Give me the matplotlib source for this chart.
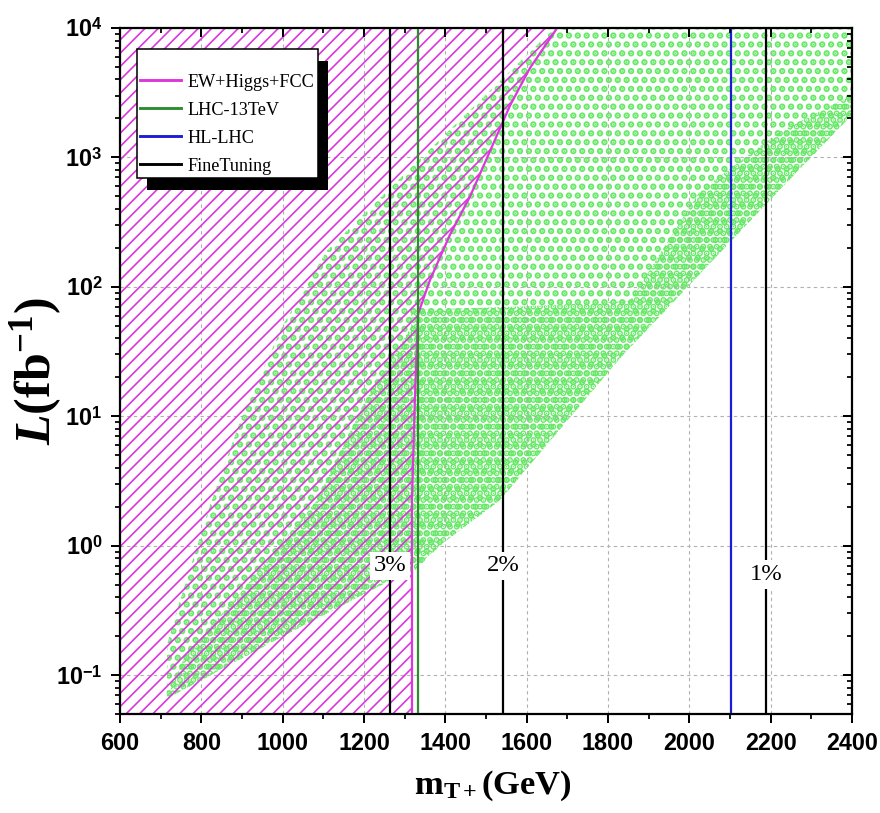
import numpy as np
import matplotlib
matplotlib.use("Agg")
import matplotlib.pyplot as plt
from matplotlib.patches import Rectangle
from matplotlib.transforms import IdentityTransform
from matplotlib.ticker import MultipleLocator, LogLocator, NullFormatter

# ---------------------------------------------------------------------------
# Datos (masa en GeV, luminosidad como log10 L)
# ---------------------------------------------------------------------------

# contorno general de la nube de puntos del escaneo
NUBE_M = [715, 716, 745, 821, 900, 1000, 1109, 1289, 1675, 2400, 2400, 2198,
          2002, 1830, 1534, 1394, 1325, 1264, 1001, 740]
NUBE_LOGL = [-1.18, -0.76, -0.45, 0.31, 1.0, 1.7, 2.28, 2.84, 4.02, 4.02, 3.33,
             2.67, 2.02, 1.45, 0.35, 0.02, -0.19, -0.27, -0.70, -1.14]

# zona densa por encima del borde inferior (lado permitido)
DENSA_M = [1316, 1394, 1534, 1830, 2002, 2198, 2400, 2400, 2223, 2026, 1854,
           1600, 1316]
DENSA_LOGL = [-0.20, 0.02, 0.35, 1.45, 2.02, 2.67, 3.33, 3.48, 3.20, 2.74, 1.89,
              1.85, 1.82]

# cuna densa dentro de la zona excluida
CUNA_M = [715, 740, 1001, 1264, 1318, 1318, 1200, 1084, 900, 760, 715]
CUNA_LOGL = [-1.18, -1.14, -0.70, -0.27, -0.20, 1.70, 1.10, 0.35, -0.35, -0.85,
             -1.18]

# limite EW+Higgs+FCC (se excluye todo lo que queda a la izquierda)
EXCL_M = [1318, 1318, 1325, 1333, 1362, 1411, 1461, 1510, 1559, 1608, 1675]
EXCL_LOGL = [-1.3, 0.35, 1.12, 1.79, 2.05, 2.40, 2.70, 3.05, 3.40, 3.69, 4.0]

LIM_LHC13 = 1333
LIM_HLLHC = 2102

# fine tuning
FT_M = [1264, 1543, 2188]
FT_TXT = ["3%", "2%", "1%"]
FT_L = [0.70, 0.70, 0.60]

XMIN, XMAX = 600, 2400
YMIN, YMAX = 0.05, 1e4
X_TICKS = list(range(600, 2401, 200))
Y_TICKS = [0.1, 1, 10, 100, 1000, 10000]
Y_TICK_TXT = [r"10$^{\mathsf{-1}}$", r"10$^{\mathsf{0}}$", r"10$^{\mathsf{1}}$",
              r"10$^{\mathsf{2}}$", r"10$^{\mathsf{3}}$", r"10$^{\mathsf{4}}$"]

VERDE_PUNTOS = "#68e868"
MAGENTA = "#dd36dd"
VERDE = "#2e8b2e"
AZUL = "#1c1cd6"

plt.rcParams["mathtext.fontset"] = "custom"
plt.rcParams["mathtext.rm"] = "Liberation Serif:bold"
plt.rcParams["mathtext.it"] = "Liberation Serif:italic:bold"
plt.rcParams["mathtext.bf"] = "Liberation Serif:bold"
plt.rcParams["mathtext.sf"] = "Liberation Sans:bold"


def a_L(logs):
    return [10 ** v for v in logs]


def rayado(x, y, color, patron, grosor, z):
    # el grosor del hatch va por parche si la version lo permite
    with plt.rc_context({"hatch.linewidth": grosor}):
        p, = ax.fill(x, y, facecolor="none", edgecolor=color, hatch=patron,
                     lw=0, zorder=z)
    if hasattr(p, "set_hatch_linewidth"):
        p.set_hatch_linewidth(grosor)
    return p


fig = plt.figure(figsize=(5.5, 813 / 160), dpi=160)
ax = fig.add_axes([120 / 880, 1 - 714 / 813, 732 / 880, 686 / 813])
ax.set_yscale("log")
ax.set_xlim(XMIN, XMAX)
ax.set_ylim(YMIN, YMAX)

# --- nube de puntos verdes ---
rayado(NUBE_M, a_L(NUBE_LOGL), VERDE_PUNTOS, "...", 2.0, 1)
rayado(DENSA_M, a_L(DENSA_LOGL), VERDE_PUNTOS, "....", 2.0, 1)
rayado(CUNA_M, a_L(CUNA_LOGL), VERDE_PUNTOS, "....", 2.0, 1)

# --- zona excluida EW+Higgs+FCC ---
excl_x = [XMIN] + EXCL_M + [XMIN]
excl_y = [YMIN] + a_L(EXCL_LOGL) + [YMAX]
rayado(excl_x, excl_y, MAGENTA, "////", 0.75, 2)
ax.plot(EXCL_M, a_L(EXCL_LOGL), color=MAGENTA, lw=1.0, zorder=3)

# --- lineas verticales ---
ax.axvline(LIM_LHC13, color=VERDE, lw=1.0, zorder=3)
ax.axvline(LIM_HLLHC, color=AZUL, lw=1.0, zorder=3)
for m, txt, l in zip(FT_M, FT_TXT, FT_L):
    ax.axvline(m, color="black", lw=1.0, zorder=3)
    ax.text(m, l, txt, ha="center", va="center", fontsize=11,
            family="Liberation Serif", zorder=4,
            bbox=dict(boxstyle="square,pad=0.15", fc="white", ec="none"))

# --- leyenda (las lineas solo sirven de muestra) ---
for txt, c in [("EW+Higgs+FCC", MAGENTA), ("LHC-13TeV", VERDE),
               ("HL-LHC", AZUL), ("FineTuning", "black")]:
    ax.plot([], [], color=c, lw=1.3, label=txt)
leg = ax.legend(loc="upper left", bbox_to_anchor=(0.023, 0.969), fancybox=False,
                framealpha=1, edgecolor="black", borderaxespad=0,
                prop={"family": "Liberation Serif", "size": 8.2},
                handlelength=2.2, handletextpad=0.4, labelspacing=0.6,
                borderpad=0.2, title=" ", title_fontsize=5)
leg.get_frame().set_linewidth(0.7)
leg.set_zorder(6)

# --- ejes ---
ax.set_xticks(X_TICKS)
ax.xaxis.set_minor_locator(MultipleLocator(100))
ax.set_yticks(Y_TICKS, labels=Y_TICK_TXT)
ax.yaxis.set_minor_locator(LogLocator(base=10, subs=np.arange(2, 10)))
ax.yaxis.set_minor_formatter(NullFormatter())
ax.tick_params(which="major", direction="out", length=4, width=0.9,
               labelsize=10.5, pad=4)
ax.tick_params(which="minor", direction="out", length=2.2, width=0.8)
for lab in ax.get_xticklabels() + ax.get_yticklabels():
    lab.set_family("Liberation Sans")
    lab.set_weight("bold")
ax.set_axisbelow("line")
ax.grid(True, which="major", ls=(0, (3, 3)), color="#b0b0b0", lw=0.5)
for s in ax.spines.values():
    s.set_linewidth(1.0)

ax.set_xlabel(r"m$_{\mathrm{T+}}$(GeV)", fontsize=15.5, family="Liberation Serif",
              weight="bold")
ax.xaxis.set_label_coords(0.51, -0.08)
ax.set_ylabel(r"$\mathit{L}$(fb$^{-1}$)", fontsize=22.5, family="Liberation Serif",
              weight="bold")
ax.yaxis.set_label_coords(-0.077, 0.5)

# marcas hacia dentro arriba y a la derecha
axt = ax.twiny()
axt.set_xlim(XMIN, XMAX)
axt.set_xticks(X_TICKS)
axt.xaxis.set_minor_locator(MultipleLocator(100))
axt.tick_params(which="both", direction="in", labeltop=False)
axt.tick_params(which="major", length=4, width=0.9)
axt.tick_params(which="minor", length=2.2, width=0.8)
axr = ax.twinx()
axr.set_yscale("log")
axr.set_ylim(YMIN, YMAX)
axr.set_yticks(Y_TICKS)
axr.yaxis.set_minor_locator(LogLocator(base=10, subs=np.arange(2, 10)))
axr.tick_params(which="both", direction="in", labelright=False)
axr.tick_params(which="major", length=4, width=0.9)
axr.tick_params(which="minor", length=2.2, width=0.8)

# sombra negra de la leyenda
fig.canvas.draw()
bb = leg.get_frame().get_window_extent()
sombra = Rectangle((bb.x0 + 10, bb.y0 - 12), bb.width, bb.height, fc="black",
                   ec="none", transform=IdentityTransform(), zorder=5.5)
sombra.set_clip_on(False)
ax.add_artist(sombra)

fig.savefig("out.png", dpi=160)
